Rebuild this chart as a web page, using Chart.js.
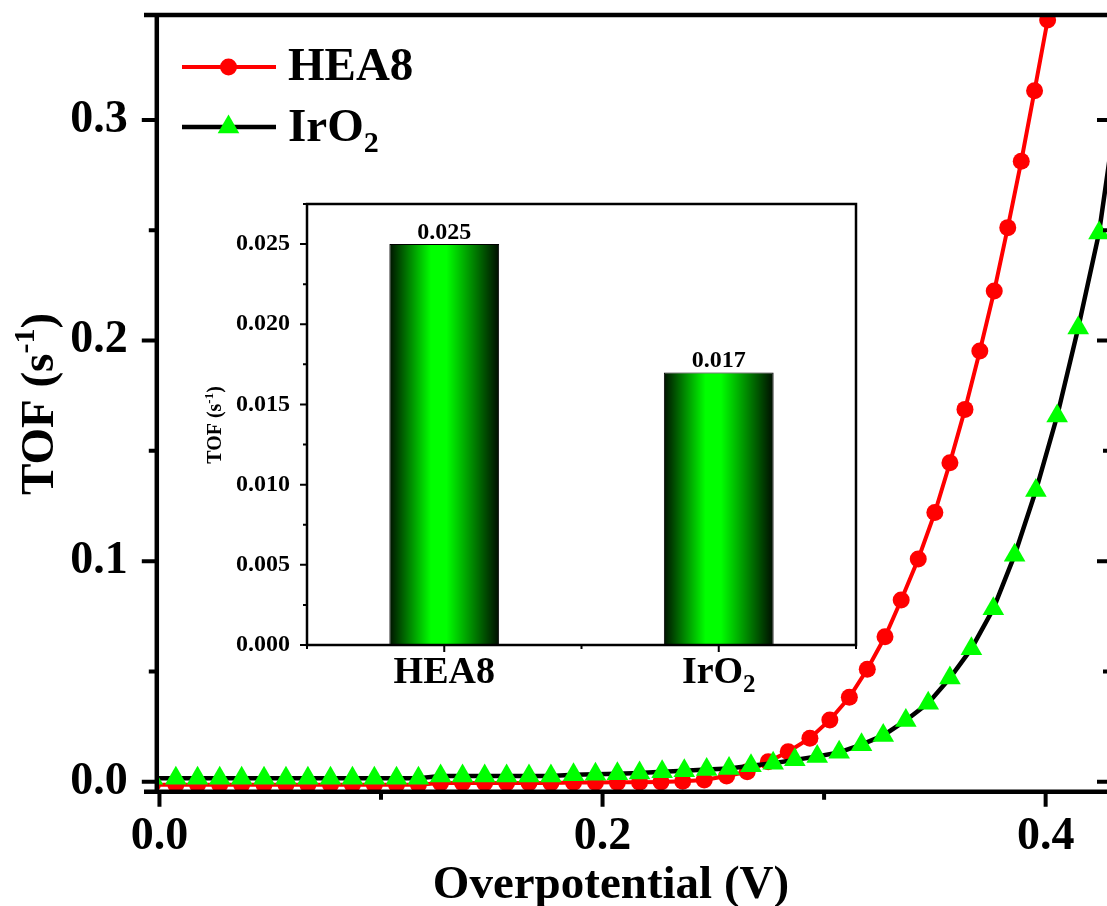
<!DOCTYPE html>
<html>
<head>
<meta charset="utf-8">
<script src="https://cdn.jsdelivr.net/npm/chart.js@4.4.1/dist/chart.umd.min.js"></script>
<style>
  html, body { margin: 0; padding: 0; background: #fff; }
  #wrap { position: relative; width: 1107px; height: 906px; overflow: hidden; }
  #main { position: absolute; left: 0; top: 0; }
  #inset { position: absolute; left: 195px; top: 190px; }
</style>
</head>
<body>
<div id="wrap">
  <canvas id="main" width="1107" height="906"></canvas>
  <canvas id="inset" width="680" height="520"></canvas>
</div>
<script>
// TOF vs overpotential, HEA8 and IrO2
const heaX = [-0.0032, 0.0074, 0.0172, 0.0272, 0.0371, 0.0472, 0.0571, 0.0670, 0.0772, 0.0871,
  0.0970, 0.1070, 0.1169, 0.1269, 0.1368, 0.1468, 0.1567, 0.1668, 0.1767, 0.1869,
  0.1968, 0.2067, 0.2167, 0.2264, 0.2362, 0.2459, 0.2560, 0.2653, 0.2748, 0.2838,
  0.2936, 0.3026, 0.3114, 0.3195, 0.3275, 0.3348, 0.3425, 0.3500, 0.3568, 0.3636,
  0.3703, 0.3768, 0.3829, 0.3890, 0.3950, 0.4009, 0.4065];
const heaY = [-0.0014, -0.0014, -0.0014, -0.0014, -0.0014, -0.0014, -0.0014, -0.0014, -0.0014, -0.0014,
  -0.0014, -0.0014, -0.0014, -0.0006, -0.0006, -0.0006, -0.0006, -0.0006, -0.0006, -0.0004,
  -0.0004, -0.0003, -0.0002, -0.0001, 0.0002, 0.0008, 0.0026, 0.0045, 0.0091, 0.0136,
  0.0197, 0.0280, 0.0383, 0.0510, 0.0657, 0.0824, 0.1010, 0.1220, 0.1446, 0.1688,
  0.1953, 0.2225, 0.2512, 0.2813, 0.3133, 0.3453, 0.3780];

const iroX = [-0.0032, 0.0074, 0.0172, 0.0272, 0.0371, 0.0472, 0.0571, 0.0670, 0.0772, 0.0871,
  0.0970, 0.1070, 0.1169, 0.1269, 0.1368, 0.1468, 0.1567, 0.1668, 0.1767, 0.1869,
  0.1968, 0.2067, 0.2167, 0.2269, 0.2369, 0.2470, 0.2571, 0.2670, 0.2770, 0.2868,
  0.2969, 0.3068, 0.3169, 0.3267, 0.3369, 0.3470, 0.3568, 0.3665, 0.3764, 0.3860,
  0.3956, 0.4052, 0.4147, 0.4241, 0.4335];
const iroY = [0.0016, 0.0016, 0.0016, 0.0016, 0.0016, 0.0016, 0.0016, 0.0016, 0.0016, 0.0016,
  0.0016, 0.0016, 0.0016, 0.0026, 0.0026, 0.0026, 0.0026, 0.0026, 0.0026, 0.0032,
  0.0034, 0.0036, 0.0040, 0.0045, 0.0050, 0.0055, 0.0060, 0.0072, 0.0084, 0.0099,
  0.0114, 0.0133, 0.0168, 0.0210, 0.0278, 0.0356, 0.0470, 0.0603, 0.0784, 0.1027,
  0.1320, 0.1658, 0.2057, 0.2488, 0.3150];

// inset bars
const insetLabels = ['HEA8', 'IrO2'];
const insetValues = [0.025, 0.017];

const SERIF = "'Liberation Serif', 'Times New Roman', serif";
const font = size => `bold ${size}px ${SERIF}`;

// text pieces with sub/superscripts: [text, size, dy]
function runsWidth(ctx, runs) {
    return runs.reduce((w, [t, s]) => { ctx.font = font(s); return w + ctx.measureText(t).width; }, 0);
}
function drawRuns(ctx, runs, x, y) {
    let cx = x;
    runs.forEach(([t, s, dy]) => {
        ctx.font = font(s);
        ctx.fillText(t, cx, y + dy);
        cx += ctx.measureText(t).width;
    });
}
function drawVertical(ctx, runs, x, yCenter) {
    const w = runsWidth(ctx, runs);
    ctx.save();
    ctx.translate(x, yCenter + w / 2);
    ctx.rotate(-Math.PI / 2);
    drawRuns(ctx, runs, 0, 0);
    ctx.restore();
}
function minorsOf(ticks, min, max) {
    const out = [];
    for (let i = 0; i < ticks.length; i++) {
        const step = ticks.length > 1 ? ticks[1].value - ticks[0].value : 0;
        [ticks[i].value - step / 2, ticks[i].value + step / 2].forEach(v => {
            if (v >= min && v <= max && !out.includes(+v.toFixed(6))) out.push(+v.toFixed(6));
        });
    }
    return out;
}
// keep the plot box where it is: no extra room for edge labels
function fixBox(size) {
    return s => {
        if (s.isHorizontal()) s.height = size; else s.width = size;
        s.paddingTop = s.paddingBottom = s.paddingLeft = s.paddingRight = 0;
    };
}
const noGrid = { display: false, drawTicks: false };

const mainDecor = {
    id: 'mainDecor',
    afterDraw(chart) {
        const { ctx, chartArea: a, scales: { x, y } } = chart;
        ctx.save();
        ctx.strokeStyle = '#000';
        ctx.fillStyle = '#000';
        ctx.lineCap = 'butt';

        // frame
        ctx.lineWidth = 4.5;
        ctx.beginPath();
        ctx.moveTo(144, a.top); ctx.lineTo(a.right, a.top);
        ctx.moveTo(144, a.bottom); ctx.lineTo(a.right, a.bottom);
        ctx.moveTo(a.left, a.top - 2); ctx.lineTo(a.left, a.bottom + 2);
        ctx.stroke();

        // tick marks
        ctx.lineWidth = 4;
        ctx.beginPath();
        y.ticks.forEach(t => {
            const py = y.getPixelForValue(t.value);
            ctx.moveTo(a.left - 15, py); ctx.lineTo(a.left, py);
            ctx.moveTo(a.right - 10, py); ctx.lineTo(a.right, py);
        });
        minorsOf(y.ticks, y.min, y.max).forEach(v => {
            const py = y.getPixelForValue(v);
            ctx.moveTo(a.left - 8, py); ctx.lineTo(a.left, py);
            ctx.moveTo(a.right - 4, py); ctx.lineTo(a.right, py);
        });
        x.ticks.forEach(t => {
            const px = x.getPixelForValue(t.value);
            ctx.moveTo(px, a.bottom); ctx.lineTo(px, a.bottom + 15);
        });
        minorsOf(x.ticks, x.min, x.max).forEach(v => {
            const px = x.getPixelForValue(v);
            ctx.moveTo(px, a.bottom); ctx.lineTo(px, a.bottom + 8);
        });
        ctx.stroke();

        // legend
        const sets = chart.data.datasets;
        [[sets[0], 67, 80, [['HEA8', 47, 0]]],
         [sets[1], 127, 141, [['IrO', 47, 0], ['2', 30, 11]]]].forEach(([ds, ly, base, runs]) => {
            ctx.strokeStyle = ds.borderColor;
            ctx.lineWidth = ds.borderWidth;
            ctx.beginPath();
            ctx.moveTo(182, ly); ctx.lineTo(276, ly);
            ctx.stroke();
            ctx.fillStyle = ds.pointBackgroundColor;
            Chart.helpers.drawPoint(ctx, { pointStyle: ds.pointStyle, radius: ds.pointRadius, borderWidth: 0 }, 228.5, ly);
            ctx.fillStyle = '#000';
            ctx.textBaseline = 'alphabetic';
            ctx.textAlign = 'left';
            drawRuns(ctx, runs, 288, base);
        });

        // axis titles
        ctx.fillStyle = '#000';
        const xt = [['Overpotential (V)', 47, 0]];
        drawRuns(ctx, xt, 611 - runsWidth(ctx, xt) / 2, 898);
        drawVertical(ctx, [['TOF (s', 47, 0], ['-1', 30, -19], [')', 47, 0]], 53, 404);
        ctx.restore();
    }
};

new Chart(document.getElementById('main'), {
    type: 'line',
    data: {
        datasets: [{
            label: 'HEA8',
            data: heaX.map((x, i) => ({ x, y: heaY[i] })),
            borderColor: '#ff0000', borderWidth: 4,
            pointStyle: 'circle', pointRadius: 8.5,
            pointBackgroundColor: '#ff0000', pointBorderWidth: 0,
            tension: 0, order: 1
        }, {
            label: 'IrO2',
            data: iroX.map((x, i) => ({ x, y: iroY[i] })),
            borderColor: '#000000', borderWidth: 4.5,
            pointStyle: 'triangle', pointRadius: 12.5,
            pointBackgroundColor: '#00ff00', pointBorderWidth: 0,
            tension: 0, order: 0
        }]
    },
    options: {
        responsive: false, animation: false, events: [],
        layout: { autoPadding: false, padding: { top: 15, right: 0, left: 0, bottom: 0 } },
        plugins: { legend: { display: false }, tooltip: { enabled: false } },
        scales: {
            x: {
                type: 'linear', min: -0.0012, max: 0.4277,
                grid: noGrid, border: { display: false },
                ticks: {
                    stepSize: 0.2, includeBounds: false, padding: 18, color: '#000',
                    font: { family: SERIF, weight: 'bold', size: 46 },
                    callback: v => v.toFixed(1)
                },
                afterFit: fixBox(114.3)
            },
            y: {
                min: -0.00453, max: 0.3476,
                grid: noGrid, border: { display: false },
                ticks: {
                    stepSize: 0.1, includeBounds: false, padding: 29, color: '#000',
                    font: { family: SERIF, weight: 'bold', size: 46 },
                    callback: v => v.toFixed(1)
                },
                afterFit: fixBox(156.8)
            }
        }
    },
    plugins: [mainDecor]
});

const insetDecor = {
    id: 'insetDecor',
    beforeDatasetsDraw(chart) {
        const { ctx } = chart;
        chart.getDatasetMeta(0).data.forEach(bar => {
            const { x, width } = bar.getProps(['x', 'width'], true);
            const g = ctx.createLinearGradient(x - width / 2, 0, x + width / 2, 0);
            g.addColorStop(0, '#001200');
            g.addColorStop(0.38, '#00ff00');
            g.addColorStop(0.52, '#00ff00');
            g.addColorStop(1, '#000c00');
            bar.options.backgroundColor = g;
        });
    },
    afterDraw(chart) {
        const { ctx, chartArea: a, scales: { x, y } } = chart;
        ctx.save();
        ctx.strokeStyle = '#000';
        ctx.fillStyle = '#000';
        ctx.lineWidth = 2.5;
        ctx.strokeRect(a.left, a.top, a.right - a.left, a.bottom - a.top);

        ctx.lineWidth = 2;
        ctx.beginPath();
        y.ticks.forEach(t => {
            const py = y.getPixelForValue(t.value);
            ctx.moveTo(a.left - 7, py); ctx.lineTo(a.left, py);
        });
        minorsOf(y.ticks, y.min, y.max).forEach(v => {
            const py = y.getPixelForValue(v);
            ctx.moveTo(a.left - 4, py); ctx.lineTo(a.left, py);
        });
        x.ticks.forEach((t, i) => {
            const px = x.getPixelForTick(i);
            ctx.moveTo(px, a.bottom); ctx.lineTo(px, a.bottom + 7);
        });
        [a.left, (a.left + a.right) / 2, a.right].forEach(px => {
            ctx.moveTo(px, a.bottom); ctx.lineTo(px, a.bottom + 4);
        });
        ctx.stroke();

        // category labels, subscript for the oxide
        ctx.textBaseline = 'alphabetic';
        ctx.textAlign = 'left';
        insetLabels.forEach((lab, i) => {
            const m = lab.match(/^(.*?)(\d)$/);
            const runs = m && lab !== 'HEA8' ? [[m[1], 38, 0], [m[2], 25, 9]] : [[lab, 38, 0]];
            const cx = x.getPixelForTick(i);
            drawRuns(ctx, runs, cx - runsWidth(ctx, runs) / 2, a.bottom + 38);
        });

        // values above the bars
        ctx.textAlign = 'center';
        ctx.font = font(24);
        const values = chart.data.datasets[0].data;
        chart.getDatasetMeta(0).data.forEach((bar, i) => {
            ctx.fillText(values[i].toFixed(3), bar.x, bar.y - 5);
        });

        ctx.textAlign = 'left';
        drawVertical(ctx, [['TOF (s', 20, 0], ['-1', 13, -8], [')', 20, 0]], 26, 235);
        ctx.restore();
    }
};

new Chart(document.getElementById('inset'), {
    type: 'bar',
    data: {
        labels: insetLabels,
        datasets: [{
            data: insetValues,
            backgroundColor: () => '#00ff00',
            borderColor: '#000', borderWidth: 1,
            barPercentage: 0.4, categoryPercentage: 1
        }]
    },
    options: {
        responsive: false, animation: false, events: [],
        layout: { autoPadding: false, padding: { top: 14, right: 19, left: 0, bottom: 0 } },
        plugins: { legend: { display: false }, tooltip: { enabled: false } },
        scales: {
            x: {
                offset: true, grid: noGrid, border: { display: false },
                ticks: { display: false },
                afterFit: fixBox(65)
            },
            y: {
                min: 0, max: 0.0275,
                grid: noGrid, border: { display: false },
                ticks: {
                    stepSize: 0.005, includeBounds: false, padding: 17, color: '#000',
                    font: { family: SERIF, weight: 'bold', size: 24 },
                    callback: v => v.toFixed(3)
                },
                afterFit: fixBox(112)
            }
        }
    },
    plugins: [insetDecor]
});
</script>
</body>
</html>
